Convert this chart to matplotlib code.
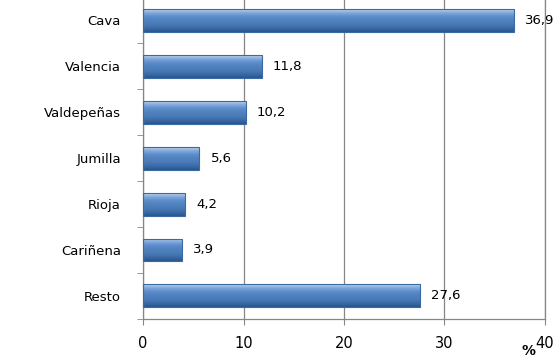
import numpy as np
import matplotlib
matplotlib.use("Agg")
import matplotlib.pyplot as plt
from matplotlib.colors import LinearSegmentedColormap

categorias = ["Cava", "Valencia", "Valdepeñas", "Jumilla", "Rioja", "Cariñena", "Resto"]
valores = [36.9, 11.8, 10.2, 5.6, 4.2, 3.9, 27.6]
etiquetas = ["36,9", "11,8", "10,2", "5,6", "4,2", "3,9", "27,6"]

plt.rcParams['font.family'] = ['DejaVu Sans']

fig = plt.figure(figsize=(5.57, 3.6), dpi=100)
ax = fig.add_axes([0.257, 0.114, 0.721, 0.894])

y = np.arange(len(categorias))
bars = ax.barh(y, valores, height=0.5, color='none', edgecolor='#3A6AA3', linewidth=0.8, zorder=3)

# degradado vertical para el efecto de relieve
cmap = LinearSegmentedColormap.from_list(
    'azul', ['#BCD3F0', '#7FA6DA', '#5B8BCB', '#4F81BD', '#4A7BB8', '#3A6BA8', '#2A558C'])
grad = np.linspace(0, 1, 64).reshape(-1, 1)
for b in bars:
    x0, y0 = b.get_x(), b.get_y()
    w, h = b.get_width(), b.get_height()
    im = ax.imshow(grad, extent=(x0, x0 + w, y0 + h, y0), aspect='auto',
                   cmap=cmap, zorder=2, interpolation='bicubic')
    im.set_clip_path(b)

for b, t in zip(bars, etiquetas):
    ax.annotate(t, (b.get_width(), b.get_y() + b.get_height() / 2),
                xytext=(8, 0), textcoords='offset points', va='center', ha='left',
                fontsize=9.5, color='black')

ax.set_xlim(0, 40)
ax.set_ylim(len(categorias) - 0.5, -0.5)
ax.set_xticks([0, 10, 20, 30, 40])
ax.set_yticks(y)
ax.set_yticklabels(categorias, fontsize=9.5)
ax.set_yticks(np.arange(-0.5, len(categorias), 1), minor=True)
ax.tick_params(axis='y', which='major', length=0, pad=16)
ax.tick_params(axis='y', which='minor', length=4, color='#868686', direction='out')
ax.tick_params(axis='x', length=4, color='#868686', direction='out', labelsize=10.5, pad=8)

ax.grid(axis='x', color='#868686', linewidth=0.9, zorder=0)
ax.set_axisbelow(True)
ax.spines['top'].set_visible(False)
for s in ['left', 'bottom', 'right']:
    ax.spines[s].set_color('#868686')
    ax.spines[s].set_linewidth(0.9)

fig.text(0.948, 0.006, '%', fontsize=10, fontweight='bold', ha='center', va='bottom')

plt.savefig('out.png', dpi=100)
